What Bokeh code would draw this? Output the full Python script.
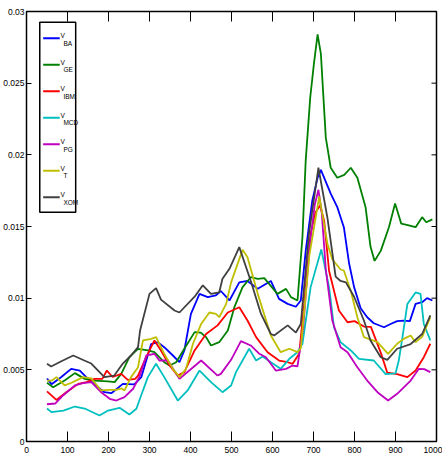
import numpy as np
from bokeh.plotting import figure
from bokeh.models import FixedTicker, CustomJSTickFormatter, Range1d
from bokeh.core.properties import value
from bokeh.embed import file_html
from bokeh.resources import INLINE

# ---------------- data (values in units of 1e-3) ----------------
names = ["BA", "GE", "IBM", "MCD", "PG", "T", "XOM"]
colors = ["#0000ff", "#008000", "#ff0000", "#00bfbf", "#bf00bf", "#bfbf00", "#404040"]

x_ba = [50,61,85,109,130,150,170,190,207,235,263,280,304,320,336,357,373,385,401,422,442,462,474,495,519,539,564,596,616,637,657,669,681,697,710,718,742,758,774,787,799,815,831,847,872,888,904,920,935,949,965,977,990]
y_ba = [4.4,4.0,4.5,5.07,4.95,4.37,3.9,3.44,3.37,4.02,3.98,4.49,6.8,6.93,6.58,6.0,5.53,6.35,8.9,10.3,10.07,10.2,10.5,9.84,11.1,11.2,10.65,11.2,9.95,9.6,9.4,9.84,13.3,16.8,18.4,18.95,17.3,16.35,14.95,12.4,10.77,9.3,8.67,8.25,7.97,8.2,8.4,8.44,8.4,9.6,9.72,10.0,9.84]

x_ge = [50,65,93,118,142,166,199,215,231,251,272,296,312,336,349,365,385,410,425,438,450,470,491,507,527,547,564,580,612,633,645,661,673,681,692,701,710,718,730,742,758,775,791,807,827,839,849,864,884,899,914,930,949,965,975,990]
y_ge = [4.1,3.79,4.25,4.77,4.37,4.25,4.2,4.14,4.72,5.88,6.47,6.35,6.23,5.53,5.3,5.53,6.47,7.63,7.6,7.28,6.7,6.93,7.74,9.37,10.77,11.46,11.35,11.4,10.3,10.65,10.07,9.84,14.25,19.6,24.0,26.35,28.4,27.05,21.2,19.1,18.4,18.6,19.1,18.4,16.35,13.6,12.6,13.3,14.95,16.6,15.2,15.1,14.95,15.65,15.3,15.5]

x_ibm = [50,73,97,126,146,166,185,196,210,231,247,265,272,292,312,328,349,369,385,410,438,466,491,519,539,560,588,616,637,649,665,677,693,705,716,726,738,762,783,800,823,840,864,880,904,929,949,969,985]
y_ibm = [3.5,2.9,3.44,4.02,4.14,4.37,4.37,4.95,4.5,4.72,4.3,4.37,4.6,5.88,7.05,6.35,5.3,4.6,4.84,6.35,7.5,8.1,9.0,9.37,8.44,7.28,6.23,5.65,5.53,5.42,6.12,9.5,14.5,16.0,16.47,15.4,11.9,9.14,8.32,8.4,8.02,8.0,6.2,4.8,4.7,4.49,4.95,5.88,6.82]

x_mcd = [50,61,90,118,142,178,199,227,251,268,278,296,316,336,369,393,422,450,478,499,511,543,560,576,596,620,641,661,673,693,719,738,750,766,791,811,847,876,900,908,917,929,949,961,969,985]
y_mcd = [2.3,2.05,2.15,2.44,2.3,1.81,2.16,2.35,1.88,2.28,3.09,4.49,5.42,4.49,2.86,3.56,4.95,4.14,3.44,3.91,4.84,6.47,5.65,5.93,5.53,5.07,5.77,6.23,6.82,10.77,13.4,10.77,7.97,6.93,6.35,5.77,5.65,4.7,4.75,5.65,7.28,9.6,10.4,10.3,8.2,7.05]

x_pg = [50,70,89,118,138,158,182,203,219,239,260,276,292,312,324,345,373,397,426,466,474,499,523,547,568,584,608,633,649,661,675,690,703,712,720,730,746,766,783,807,831,856,882,904,937,957,970,985]
y_pg = [2.6,2.65,3.21,3.91,4.07,4.14,3.44,2.98,2.86,3.09,3.68,4.55,6.0,6.12,5.65,5.65,4.37,4.95,5.65,4.6,4.72,5.7,7.0,6.7,6.12,5.88,4.95,5.07,5.3,5.25,8.0,13.5,16.5,17.56,16.0,12.0,8.44,6.58,6.23,5.18,4.25,3.44,2.86,3.33,4.25,5.07,5.05,4.84]

x_t = [50,62,73,93,110,138,158,182,200,219,232,239,255,272,284,304,316,336,357,373,389,406,426,446,462,470,487,499,527,539,564,596,620,641,661,669,690,714,734,746,766,774,791,807,823,856,882,904,920,937,949,965,985]
y_t = [4.25,4.25,4.49,3.91,4.1,4.49,4.4,3.56,3.6,3.6,3.7,3.56,4.49,5.18,7.05,7.16,7.28,6.12,5.07,4.49,5.07,6.82,8.2,9.0,8.9,8.67,9.6,11.1,13.37,12.86,10.3,7.4,6.23,6.47,6.23,6.5,13.0,17.1,13.8,12.7,12.0,11.93,10.5,8.67,7.28,6.93,6.12,6.82,7.16,7.4,6.93,7.3,8.67]

x_xom = [50,60,85,114,141,158,190,214,235,255,272,277,300,316,328,361,373,410,430,450,470,478,495,519,547,572,596,604,637,657,669,689,712,734,754,766,779,799,823,839,864,880,904,937,965,985]
y_xom = [5.42,5.23,5.6,6.0,5.65,5.44,4.49,4.6,5.44,6.0,6.58,7.74,10.3,10.7,9.9,9.14,9.0,10.1,10.9,10.3,10.4,11.35,12.05,13.56,11.2,8.9,7.5,7.4,8.1,7.6,8.2,14.5,19.1,15.6,11.5,11.2,11.1,10.1,8.44,7.05,5.88,5.7,6.47,6.8,7.5,8.8]

x_ticks = [0, 100, 200, 300, 400, 500, 600, 700, 800, 900, 1000]
y_ticks = [0, 0.005, 0.01, 0.015, 0.02, 0.025, 0.03]

series_x = [x_ba, x_ge, x_ibm, x_mcd, x_pg, x_t, x_xom]
series_y = [y_ba, y_ge, y_ibm, y_mcd, y_pg, y_t, y_xom]

# ---------------- figure ----------------
W, H = 442, 465
ML, MR, MT, MB = 25, 6, 11, 24
FW, FH = W - ML - MR, H - MT - MB
X0, X1 = 0, 1000
Y0, Y1 = 0, 0.03
XT_LEN, YT_LEN = 10, 5

FONT = "Liberation Sans"

p = figure(width=W, height=H, x_range=Range1d(X0, X1), y_range=Range1d(Y0, Y1),
           output_backend="svg", toolbar_location=None,
           min_border_left=ML, min_border_right=MR, min_border_top=MT, min_border_bottom=MB)
p.grid.visible = False
p.background_fill_color = "white"
p.border_fill_color = "white"
p.outline_line_color = "black"
p.outline_line_width = 1.5

def fx(px):
    return X0 + px / FW * (X1 - X0)

def fy(py):
    return Y1 - py / FH * (Y1 - Y0)

yfmt = CustomJSTickFormatter(code="return String(Number(tick.toPrecision(6)));")

ax = p.xaxis[0]
ax.ticker = FixedTicker(ticks=x_ticks)
ax.major_tick_in = XT_LEN
ax.major_tick_out = 0
ax.major_label_standoff = 5
ax.major_label_text_font_size = "8.5px"
ay = p.yaxis[0]
ay.ticker = FixedTicker(ticks=y_ticks)
ay.major_tick_in = YT_LEN
ay.major_tick_out = 0
ay.major_label_standoff = 2
ay.major_label_text_font_size = "8.5px"
ay.formatter = yfmt
for a in (ax, ay):
    a.minor_tick_line_color = None
    a.axis_line_color = "black"
    a.major_tick_line_color = "black"
    a.major_label_text_font = FONT
    a.major_label_text_color = "black"

# ticks on top and right edges (mirrored, pointing inward)
p.segment(x0=x_ticks, y0=[Y1] * len(x_ticks), x1=x_ticks, y1=[fy(XT_LEN)] * len(x_ticks),
          line_color="black", line_width=1)
p.segment(x0=[X1] * len(y_ticks), y0=y_ticks, x1=[fx(FW - YT_LEN)] * len(y_ticks), y1=y_ticks,
          line_color="black", line_width=1)

for xs, ys, c in zip(series_x, series_y, colors):
    p.line(np.array(xs), np.array(ys) * 1e-3, line_color=c, line_width=1.8)

# ---------------- legend (drawn in frame pixel offsets) ----------------
p.quad(left=fx(13.3), right=fx(49.3), top=fy(10.7), bottom=fy(200.7),
       fill_color="white", line_color="black", line_width=1.5)
row0, drow = 26.7, 26.5
for i, (n, c) in enumerate(zip(names, colors)):
    yr = row0 + drow * i
    p.line([fx(16.7), fx(33.3)], [fy(yr), fy(yr)], line_color=c, line_width=2)
    p.text(x=[fx(34.0)], y=[fy(yr - 2.5)], text=["V"], text_font=value(FONT),
           text_font_size="6.5px", text_baseline="middle", text_align="left", text_color="black")
    p.text(x=[fx(37.0)], y=[fy(yr + 5.0)], text=[n], text_font=value(FONT),
           text_font_size="6.5px", text_baseline="middle", text_align="left", text_color="black")

open("out.html", "w").write(file_html(p, INLINE))
